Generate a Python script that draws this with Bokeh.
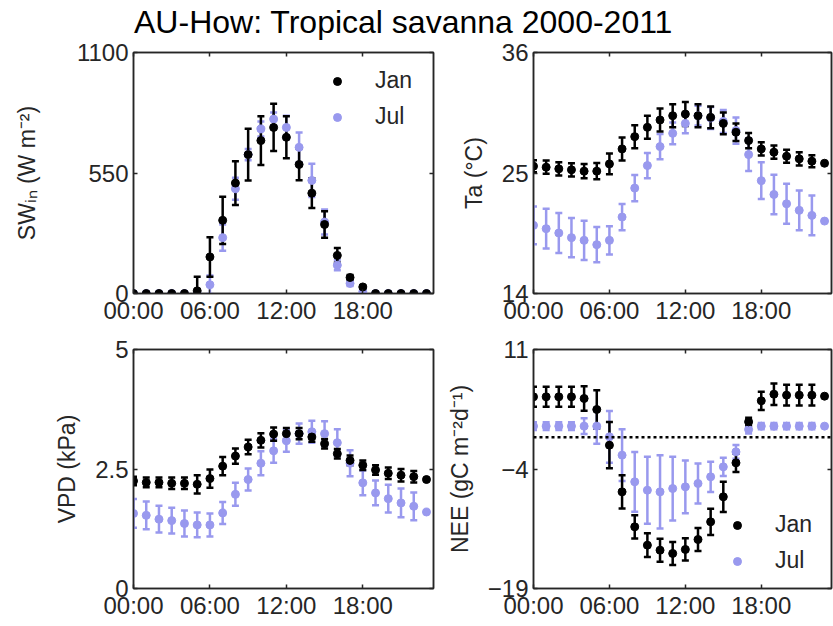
from bokeh.plotting import figure
from bokeh.models import (ColumnDataSource, Whisker, TeeHead, Range1d, FixedTicker,
                          LinearAxis, Span, Legend, LegendItem, Label)
from bokeh.layouts import column, gridplot
from bokeh.embed import file_html
from bokeh.resources import INLINE

# ---------------- data ----------------
hours = list(range(24))
tick_hours = [0, 6, 12, 18]
tick_labels = ["00:00", "06:00", "12:00", "18:00"]
title_text = "AU-How: Tropical savanna 2000-2011"
months = ["Jan", "Jul"]

sw_jan = [0, 0, 0, 0, 0, 12, 167, 334, 504, 634, 698, 758, 713, 589, 458, 315, 174, 73, 30, 0, 0, 0, 0, 0]
sw_jan_err = [0, 0, 0, 0, 0, 65, 90, 108, 100, 118, 111, 108, 96, 72, 68, 60, 34, 12, 6, 0, 0, 0, 0, 0]
sw_jul = [0, 0, 0, 0, 0, 0, 40, 255, 478, 634, 751, 796, 758, 667, 516, 326, 129, 46, 8, 0, 0, 0, 0, 0]
sw_jul_err = [0, 0, 0, 0, 0, 0, 42, 60, 50, 26, 34, 30, 53, 68, 76, 57, 23, 12, 4, 0, 0, 0, 0, 0]

ta_jan = [25.62, 25.53, 25.38, 25.29, 25.17, 25.17, 25.83, 27.2, 28.32, 29.17, 29.84, 30.23,
          30.38, 30.23, 30.08, 29.53, 28.72, 27.96, 27.2, 26.9, 26.53, 26.29, 26.08, 25.89]
ta_jan_err = [0.55, 0.6, 0.6, 0.6, 0.65, 0.75, 0.95, 1.05, 1.05, 1.05, 1.05, 1.05,
              1.1, 1.05, 1.0, 1.0, 0.8, 0.7, 0.6, 0.6, 0.6, 0.6, 0.55, 0]
ta_jul = [20.22, 19.92, 19.52, 19.1, 18.85, 18.46, 18.85, 20.98, 23.62, 25.68, 27.41, 28.62,
          29.53, 30.23, 30.02, 29.71, 28.87, 26.68, 24.3, 23.04, 22.19, 21.59, 21.13, 20.61]
ta_jul_err = [1.73, 1.82, 1.82, 1.8, 1.8, 1.6, 1.3, 1.2, 1.2, 1.15, 1.15, 1.0,
              0.9, 0.9, 1.0, 1.05, 1.2, 1.5, 1.67, 1.8, 1.82, 1.82, 1.82, 0]

vpd_jan = [2.25, 2.22, 2.22, 2.20, 2.20, 2.18, 2.30, 2.56, 2.77, 2.96, 3.10, 3.23,
           3.24, 3.24, 3.17, 3.03, 2.82, 2.68, 2.58, 2.48, 2.41, 2.37, 2.34, 2.28]
vpd_jan_err = [0.09, 0.1, 0.1, 0.12, 0.12, 0.19, 0.19, 0.19, 0.16, 0.15, 0.15, 0.14,
               0.12, 0.12, 0.1, 0.1, 0.1, 0.1, 0.1, 0.1, 0.12, 0.13, 0.12, 0]
vpd_jul = [1.57, 1.53, 1.45, 1.42, 1.36, 1.33, 1.33, 1.58, 1.97, 2.28, 2.62, 2.88,
           3.09, 3.24, 3.28, 3.24, 3.05, 2.62, 2.21, 2.00, 1.88, 1.79, 1.72, 1.60]
vpd_jul_err = [0.3, 0.29, 0.28, 0.27, 0.27, 0.26, 0.24, 0.23, 0.24, 0.23, 0.25, 0.25,
               0.23, 0.21, 0.23, 0.26, 0.28, 0.27, 0.26, 0.26, 0.29, 0.3, 0.29, 0]

nee_jan = [5.06, 5.06, 5.06, 5.06, 4.85, 3.47, -1.01, -6.87, -11.26, -13.56, -14.19, -14.6,
           -14.1, -12.85, -10.63, -7.49, -3.23, 1.92, 4.56, 5.39, 5.27, 5.27, 5.27, 5.14]
nee_jan_err = [1.25, 1.25, 1.25, 1.25, 1.55, 2.4, 2.9, 2.1, 1.45, 1.5, 1.45, 1.45,
               1.4, 1.45, 1.65, 1.9, 1.15, 0.5, 1.15, 1.35, 1.3, 1.3, 1.3, 0]
nee_jul = [1.38, 1.38, 1.38, 1.38, 1.38, 1.38, 0.04, -2.26, -5.61, -6.66, -6.87, -6.45,
           -6.24, -5.82, -4.98, -3.73, -1.85, 0.96, 1.38, 1.38, 1.38, 1.38, 1.38, 1.38]
nee_jul_err = [0.5, 0.5, 0.5, 0.5, 1.0, 2.2, 3.25, 3.25, 3.75, 4.2, 4.6, 4.0,
               3.3, 2.5, 1.9, 1.15, 0.85, 0.5, 0.4, 0.4, 0.4, 0.4, 0.4, 0]

sw_ticks = [0, 550, 1100]
ta_ticks = [14, 25, 36]
vpd_ticks = [0, 2.5, 5]
nee_ticks = [-19, -4, 11]
nee_zero = 0

# ---------------- style ----------------
FONT = "Liberation Sans"
INK = "#262626"
BLACK = "#000000"
BLUE = "#9999ee"
X_END = 23.55


def whisker_src(y, e):
    xs, up, lo = [], [], []
    for h, v, d in zip(hours, y, e):
        if d > 0:
            xs.append(h)
            up.append(v + d)
            lo.append(v - d)
    return ColumnDataSource(dict(x=xs, upper=up, lower=lo))


def make_panel(jan, jan_e, jul, jul_e, yticks, ylabel, width, height, borders,
               label_standoff, legend_loc=None, zero_line=None):
    bl, br, bt, bb = borders
    p = figure(width=width, height=height, output_backend="svg", toolbar_location=None,
               title=None,
               x_range=Range1d(0, X_END), y_range=Range1d(yticks[0], yticks[-1]),
               min_border_left=bl, min_border_right=br, min_border_top=bt, min_border_bottom=bb)
    p.xgrid.visible = False
    p.ygrid.visible = False
    p.outline_line_color = INK
    p.outline_line_width = 1.5
    p.background_fill_color = "white"
    p.border_fill_color = None

    xa = p.xaxis[0]
    xa.ticker = FixedTicker(ticks=tick_hours)
    xa.major_label_overrides = {h: s for h, s in zip(tick_hours, tick_labels)}
    ya = p.yaxis[0]
    ya.ticker = FixedTicker(ticks=yticks)
    ya.axis_label = ylabel
    ya.axis_label_standoff = label_standoff
    ya.axis_label_text_font = FONT
    ya.axis_label_text_font_size = "23px"
    ya.axis_label_text_font_style = "normal"
    ya.axis_label_text_color = INK
    for ax in (xa, ya):
        ax.major_label_text_font = FONT
        ax.major_label_text_font_size = "24px"
        ax.major_label_text_color = INK
        ax.major_label_standoff = 5
        ax.major_tick_in = 4
        ax.major_tick_out = 0
        ax.minor_tick_line_color = None
        ax.axis_line_color = INK
        ax.axis_line_width = 1.5
        ax.major_tick_line_color = INK
        ax.major_tick_line_width = 1.5
    xa.major_label_standoff = 3

    # mirrored inward ticks on the top and right edges (no labels drawn)
    for tks, place in ((tick_hours, "above"), (yticks, "right")):
        m = LinearAxis(ticker=FixedTicker(ticks=tks), major_label_text_font_size="1px",
                       major_label_text_alpha=0, major_label_text_color=None,
                       major_label_standoff=0, major_tick_in=4, major_tick_out=0,
                       axis_label_standoff=0,
                       minor_tick_line_color=None, axis_line_color=INK, axis_line_width=1.5,
                       major_tick_line_color=INK, major_tick_line_width=1.5)
        p.add_layout(m, place)

    if zero_line is not None:
        p.add_layout(Span(location=zero_line, dimension="width", line_color=BLACK,
                          line_width=2.5, line_dash="3 3"))

    # error bars
    for y, e, c in ((jul, jul_e, BLUE), (jan, jan_e, BLACK)):
        w = Whisker(source=whisker_src(y, e), base="x", upper="upper", lower="lower",
                    line_color=c, line_width=2.5,
                    upper_head=TeeHead(size=7, line_color=c, line_width=2.5),
                    lower_head=TeeHead(size=7, line_color=c, line_width=2.5))
        p.add_layout(w)

    r_jul = p.scatter(hours, jul, size=8, fill_color=BLUE, line_color=BLUE)
    r_jan = p.scatter(hours, jan, size=8, fill_color=BLACK, line_color=BLACK)

    if legend_loc is not None:
        lg = Legend(items=[LegendItem(label=months[0], renderers=[r_jan]),
                           LegendItem(label=months[1], renderers=[r_jul])],
                    location=legend_loc, border_line_color=None, background_fill_alpha=0,
                    padding=0, margin=0, spacing=9, glyph_width=20, glyph_height=20,
                    label_height=20, label_standoff=28, label_text_font=FONT,
                    label_text_font_size="23px", label_text_color=INK)
        p.add_layout(lg)
    return p


LW, RW = 440, 393
TH = 40
H1, H2 = 290, 296
p1 = make_panel(sw_jan, sw_jan_err, sw_jul, sw_jul_err, sw_ticks, "SWᵢₙ (W m⁻²)",
                LW, H1, (133, 7, 12, 37), 34, legend_loc=(194, 163))
p2 = make_panel(ta_jan, ta_jan_err, ta_jul, ta_jul_err, ta_ticks, "Ta (°C)",
                RW, H1, (93, 2, 12, 37), 12)
p3 = make_panel(vpd_jan, vpd_jan_err, vpd_jul, vpd_jul_err, vpd_ticks, "VPD (kPa)",
                LW, H2, (133, 7, 19, 38), 12)
p4 = make_panel(nee_jan, nee_jan_err, nee_jul, nee_jul_err, nee_ticks, "NEE (gC m⁻²d⁻¹)",
                RW, H2, (93, 2, 19, 38), 12, legend_loc=(194, 14), zero_line=nee_zero)

tfig = figure(width=833, height=TH, output_backend="svg", toolbar_location=None, title=None,
              x_range=Range1d(0, 833), y_range=Range1d(0, TH),
              x_axis_location=None, y_axis_location=None, min_border=0)
tfig.grid.visible = False
tfig.outline_line_color = None
tfig.add_layout(Label(x=403, y=TH - 3.5, text=title_text, text_align="center",
                      text_baseline="top", text_font=FONT,
                      text_font_size="32px", text_color=BLACK))

grid = gridplot([[p1, p2], [p3, p4]], toolbar_location=None)
layout = column(tfig, grid)

open("out.html", "w").write(file_html(layout, INLINE))
